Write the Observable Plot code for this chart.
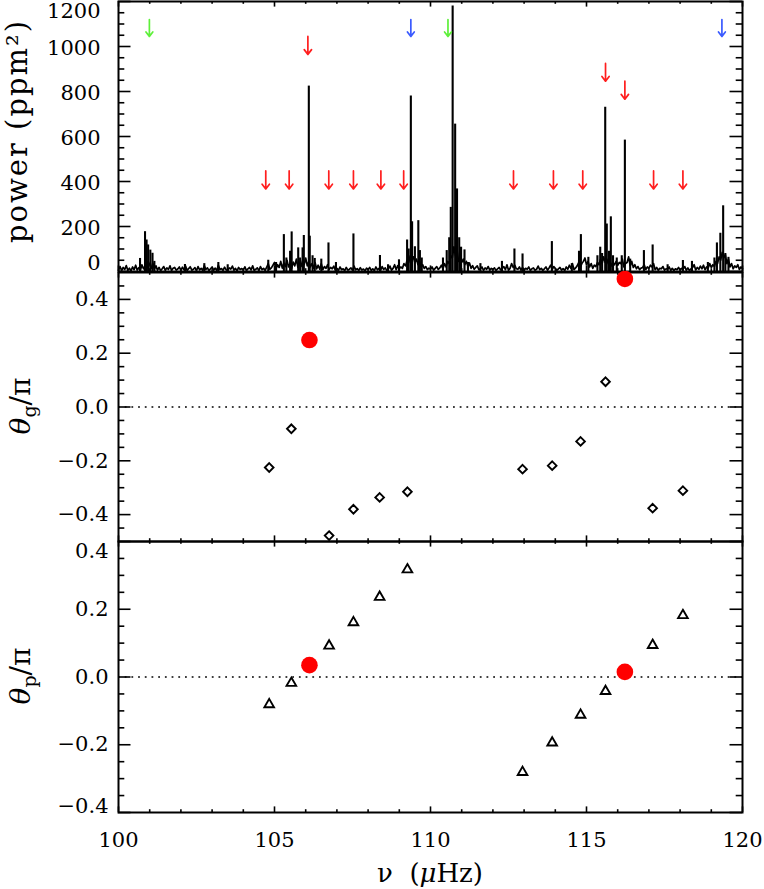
<!DOCTYPE html>
<html><head><meta charset="utf-8">
<script src="https://cdn.jsdelivr.net/npm/d3@7"></script>
<script src="https://cdn.jsdelivr.net/npm/@observablehq/plot@0.6"></script>
<style>
body{margin:0;background:#fff;}
#wrap{position:relative;width:764px;height:889px;overflow:hidden;background:#fff;}
#wrap svg{position:absolute;left:0;}
</style></head><body><div id="wrap"></div>
<script>
// ---------- data ----------
const xMajor = [100, 105, 110, 115, 120];
const xMajorLabels = ["100", "105", "110", "115", "120"];
const xMinor = [101,102,103,104,106,107,108,109,111,112,113,114,116,117,118,119];

const powerMajor = [0, 200, 400, 600, 800, 1000, 1200];
const powerMinor = [50,100,150,250,300,350,450,500,550,650,700,750,850,900,950,1050,1100,1150];
const gMajor = [-0.4, -0.2, 0, 0.2, 0.4];
const gMinor = [-0.45,-0.35,-0.3,-0.25,-0.15,-0.1,-0.05,0.05,0.1,0.15,0.25,0.3,0.35,0.45];
const pMajor = [-0.4, -0.2, 0, 0.2, 0.4];
const pMinor = [-0.35,-0.3,-0.25,-0.15,-0.1,-0.05,0.05,0.1,0.15,0.25,0.3,0.35];

// background noise of the power spectrum, sampled every 0.05 µHz from 100 µHz
const bgStart = 100, bgStep = 0.05;
const bgPower = [
  6,22, 4,18, 9,26, 5,15, 3,20, 8,28, 6,17, 4,30,12,24, 8,45,
 30,14,38,10,25, 6,18, 4,12,22, 5,16, 9,25, 4,14,18, 6,11,20,
  5,19, 8,24, 4,13,21, 6,10,17, 3,22, 7,14, 5,26, 9,16, 4,12,
 20, 6,15, 4,28, 9,13, 5,19, 8, 4,16,11,24, 6,14, 3,18, 9,13,
  6,21, 4,12,18, 7,25, 5,10,16, 4,22, 8,14, 5,19,35,10,16,28,
 40,12,30,18,45,15,38,22,50,20,36,14,42,25,55,18,40,22,48,30,
 60,25,44,20,35,15,40,12,28,10,35, 8,22,14,30, 9,18,12,24, 6,
 14, 5,20, 8,12, 4,18, 6,10,16, 5,24, 7,13, 4,17, 6,11, 3,15,
  8,18, 5,12, 4,20, 7,14, 5,22, 9,16, 4,12,24, 6,14,30, 8,26,
 12,20,14,35,25,50,40,70,50,65,40,55,30,45,20,30,14,22, 8,15,
 10,20, 6,14,22, 9,16,28,12,35,20,45,35,70,60,110,70,95,45,60,
 40,55,30,45,22,38,14,26,10,18,25, 8,12,20, 5,16,10,22, 6,14,
  9,16, 4,12,18, 7,14,22, 8,30, 6,14,35,18,28,12,10,20, 6,18,
  4,14,10,20, 5,12,16, 6,10,24, 8,14, 5,12,20, 6,16,28, 9,22,
 14, 5,12,18, 6,13, 4,20,10,28,14,35, 8,16,25,40,18,35,45,60,
 30,45,20,35,14,28,22,40,30,55,35,65,40,55,35,48,25,40,30,45,
 28,40,35,55,20,35,40,65,25,45,18,30,12,22, 8,15,18,30, 9,20,
 14,28,20,35, 8,18, 5,14,12,22, 6,12,10,20, 5,14, 4,12, 8,18,
  6,14,12,22, 5,16, 4,12,18,30, 7,18,10,24,12,28, 8,20,16,35,
 18,30,22,45,35,65,50,85,60,75,35,55,20,35,12,25,18,30, 9,20,
 12];

// narrow peaks of the power spectrum (µHz, ppm²)
const peakFreq = [100.69,100.85,100.90,100.95,101.02,101.09,101.15,102.13,102.75,103.20,103.50,104.80,105.05,
 105.30,105.38,105.50,105.55,105.76,105.82,105.90,105.94,106.10,106.13,106.22,106.29,106.50,106.73,106.97,
 107.53,108.38,108.64,108.99,109.25,109.30,109.37,109.41,109.50,109.61,109.66,109.72,
 110.40,110.52,110.60,110.65,110.71,110.79,110.85,110.92,110.98,111.09,111.20,111.60,
 112.29,112.69,112.95,113.89,114.53,114.76,114.82,115.06,115.35,115.44,115.50,115.60,115.65,115.72,115.78,115.85,
 115.97,116.13,116.23,116.40,116.84,117.12,117.60,118.09,118.38,118.89,119.10,119.18,119.29,119.38,
 119.45,119.55];
const peakPower = [58,177,140,118,95,81,45,31,35,40,30,50,40,
 164,60,90,176,105,60,105,160,824,157,70,58,55,127,40,
 167,71,30,52,140,100,780,221,110,226,93,60,
 60,93,150,285,1180,655,367,150,108,96,40,35,
 45,100,78,133,35,90,164,63,70,108,80,730,211,90,243,70,
 60,70,584,55,93,118,30,49,45,40,60,127,170,292,
 80,63];

// mode markers (arrows) in the power panel
const arrowFreq  = [100.99,110.56, 109.37,119.34, 106.07,115.61,116.23,
 104.72,105.47,106.74,107.53,108.41,109.14,112.66,113.94,114.88,117.15,118.09];
const arrowFrom  = [1120,1120, 1120,1120, 1045,925,846,
 447,447,447,447,447,447,447,447,447,447,447];
const arrowTo    = [1045,1045, 1045,1045, 965,846,766,
 367,367,367,367,367,367,367,367,367,367,367];
const arrowKind  = ["l=0","l=0","l=2","l=2","mixed","mixed","mixed",
 "mixed","mixed","mixed","mixed","mixed","mixed","mixed","mixed","mixed","mixed","mixed"];

// phases of the mixed modes
const modeFreq = [104.83,105.54,106.75,107.53,108.37,109.26,112.95,113.90,114.81,115.61,117.12,118.09];
const thetaG   = [-0.225,-0.081,-0.478,-0.380,-0.336,-0.315,-0.231,-0.218,-0.128,0.094,-0.376,-0.311];
const thetaP   = [-0.081,-0.018,0.092,0.161,0.236,0.317,-0.281,-0.194,-0.112,-0.042,0.094,0.182];
// highlighted modes (red dots)
const redFreq   = [106.12, 116.23];
const redThetaG = [0.249, 0.476];
const redThetaP = [0.035, 0.015];

// ---------- tables ----------
const bg = bgPower.map((p, i) => ({f: bgStart + i * bgStep, p}));
const peaks = peakFreq.map((f, i) => ({f, p: peakPower[i]}));
const kindColor = {"l=0": "#5ef03a", "l=2": "#3b5bff", "mixed": "#ff1e1e"};
const arrows = arrowFreq.map((f, i) => ({f, from: arrowFrom[i], to: arrowTo[i], c: kindColor[arrowKind[i]]}));
const modes = modeFreq.map((f, i) => ({f, g: thetaG[i], p: thetaP[i]}));
const reds = redFreq.map((f, i) => ({f, g: redThetaG[i], p: redThetaP[i]}));

// ---------- layout ----------
const FONT = "DejaVu Serif";
const FW = 624;
const common = {
  width: 764, marginLeft: 118, marginRight: 22,
  x: {domain: [100, 120], axis: null},
  style: {fontFamily: FONT, fontSize: "21px", background: "none", overflow: "visible", color: "black"}
};
function frameTicks(yMajor, yMinor, fh) {
  const sw = 1.6;
  return [
    Plot.ruleX(xMajor, {insetTop: fh - 5.6, strokeWidth: sw}),
    Plot.ruleX(xMajor, {insetBottom: fh - 5.6, strokeWidth: sw}),
    Plot.ruleX(xMinor, {insetTop: fh - 2.8, strokeWidth: sw}),
    Plot.ruleX(xMinor, {insetBottom: fh - 2.8, strokeWidth: sw}),
    Plot.ruleY(yMajor, {insetRight: FW - 12.5, strokeWidth: sw}),
    Plot.ruleY(yMajor, {insetLeft: FW - 12.5, strokeWidth: sw}),
    Plot.ruleY(yMinor, {insetRight: FW - 6.3, strokeWidth: sw}),
    Plot.ruleY(yMinor, {insetLeft: FW - 6.3, strokeWidth: sw}),
    Plot.frame({strokeWidth: 2})
  ];
}
const fmt1 = d3.format(".1f");
const fmtD = d3.format("d");

const p1 = Plot.plot({
  ...common, height: 272, marginTop: 1, marginBottom: 1,
  y: {domain: [0, 1200], axis: null},
  color: {type: "identity"},
  marks: [
    Plot.line(bg, {x: "f", y: "p", strokeWidth: 1.7}),
    Plot.ruleX(peaks, {x: "f", y1: 0, y2: "p", strokeWidth: 2.1}),
    Plot.arrow(arrows, {x1: "f", x2: "f", y1: "from", y2: "to", stroke: "c", strokeWidth: 1.7, headLength: 7, headAngle: 75}),
    ...frameTicks(powerMajor, powerMinor, 270),
    Plot.axisY(powerMajor.filter(v => v > 0 && v < 1200), {tickSize: 0, tickPadding: 18, dy: 2, tickFormat: fmtD, label: null}),
    Plot.axisY([1200], {tickSize: 0, tickPadding: 18, dy: 10, tickFormat: fmtD, label: null}),
    Plot.axisY([0], {tickSize: 0, tickPadding: 18, dy: -8, tickFormat: fmtD, label: null})
  ]
});
p1.style.top = "0px";

const p2 = Plot.plot({
  ...common, height: 288, marginTop: 10, marginBottom: 9,
  y: {domain: [-0.5, 0.5], axis: null},
  marks: [
    Plot.ruleY([0], {strokeDasharray: "1.8,4.9", strokeWidth: 1.7}),
    ...frameTicks(gMajor, gMinor, 269),
    Plot.dot(modes, {x: "f", y: "g", symbol: "diamond2", r: 3.9, stroke: "black", strokeWidth: 1.9}),
    Plot.dot(reds, {x: "f", y: "g", r: 8.3, fill: "#ff0000"}),
    Plot.axisY(gMajor, {tickSize: 0, tickPadding: 10, tickFormat: fmt1, label: null})
  ]
});
p2.style.top = "262px";

const p3 = Plot.plot({
  ...common, height: 358, marginTop: 10, marginBottom: 77,
  y: {domain: [-0.4, 0.4], axis: null},
  marks: [
    Plot.ruleY([0], {strokeDasharray: "1.8,4.9", strokeWidth: 1.7}),
    ...frameTicks(pMajor, pMinor, 271),
    Plot.dot(modes, {x: "f", y: "p", symbol: "triangle2", r: 4.6, stroke: "black", strokeWidth: 1.9}),
    Plot.dot(reds, {x: "f", y: "p", r: 8.3, fill: "#ff0000"}),
    Plot.axisY(pMajor.filter(v => v > -0.4 && v < 0.4), {tickSize: 0, tickPadding: 10, tickFormat: fmt1, label: null}),
    Plot.axisY([0.4], {tickSize: 0, tickPadding: 10, dy: 10, tickFormat: fmt1, label: null}),
    Plot.axisY([-0.4], {tickSize: 0, tickPadding: 10, dy: -6, tickFormat: fmt1, label: null}),
    Plot.axisX(xMajor, {anchor: "bottom", tickSize: 0, tickPadding: 20, tickFormat: d => xMajorLabels[xMajor.indexOf(d)], label: null})
  ]
});
p3.style.top = "531px";

const wrap = document.getElementById("wrap");
wrap.append(p1, p2, p3);

// axis titles
const ov = d3.select(wrap).append("svg").attr("width", 764).attr("height", 889)
  .style("top", "0px").style("pointer-events", "none")
  .attr("font-family", FONT).attr("fill", "black");
ov.append("text").attr("transform", "translate(27,131) rotate(-90)").attr("text-anchor", "middle")
  .attr("font-size", 29).attr("letter-spacing", 2).text("power (ppm²)");
function thetaTitle(y, sub) {
  const t = ov.append("text").attr("transform", `translate(30,${y}) rotate(-90)`).attr("text-anchor", "middle").attr("font-size", 28);
  t.append("tspan").attr("font-style", "italic").text("θ");
  t.append("tspan").attr("font-size", 19).attr("dy", 6).text(sub);
  t.append("tspan").attr("dy", -6).text("/π");
}
thetaTitle(406, "g");
thetaTitle(676, "p");
const xt = ov.append("text").attr("x", 430).attr("y", 882).attr("text-anchor", "middle").attr("font-size", 26).attr("xml:space", "preserve");
xt.append("tspan").text("ν  (");
xt.append("tspan").attr("font-style", "italic").text("μ");
xt.append("tspan").text("Hz)");
</script></body></html>
